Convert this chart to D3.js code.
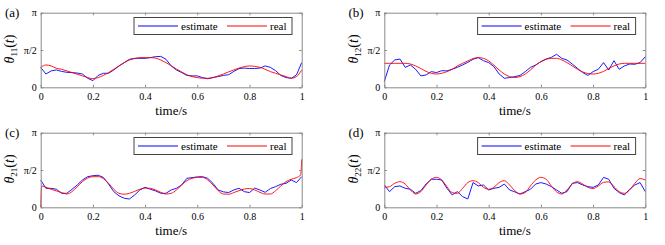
<!DOCTYPE html>
<html>
<head>
<meta charset="utf-8">
<script src="https://cdn.jsdelivr.net/npm/d3@7"></script>
<style>
  body { margin: 0; background: #fff; }
</style>
</head>
<body>
<script>

// sample times (s)
const time = [0, 0.02, 0.04, 0.06, 0.08, 0.1, 0.12, 0.14, 0.16, 0.18,
    0.2, 0.22, 0.24, 0.26, 0.28, 0.3, 0.32, 0.34, 0.36, 0.38,
    0.4, 0.42, 0.44, 0.46, 0.48, 0.5, 0.52, 0.54, 0.56, 0.58,
    0.6, 0.62, 0.64, 0.66, 0.68, 0.7, 0.72, 0.74, 0.76, 0.78,
    0.8, 0.82, 0.84, 0.86, 0.88, 0.9, 0.92, 0.94, 0.96, 0.98, 1];

// real theta_21 has a jump at both ends, so it gets its own times
const timeC = [0, 0.004, 0.02, 0.04, 0.06, 0.08, 0.1, 0.12, 0.14, 0.16, 0.18,
    0.2, 0.22, 0.24, 0.26, 0.28, 0.3, 0.32, 0.34, 0.36, 0.38,
    0.4, 0.42, 0.44, 0.46, 0.48, 0.5, 0.52, 0.54, 0.56, 0.58,
    0.6, 0.62, 0.64, 0.66, 0.68, 0.7, 0.72, 0.74, 0.76, 0.78,
    0.8, 0.82, 0.84, 0.86, 0.88, 0.9, 0.92, 0.94, 0.96, 0.98, 0.996, 1];

// angles in rad
const estA = [0.84, 0.56, 0.69, 0.73, 0.67, 0.63, 0.62, 0.60, 0.56, 0.38,
    0.28, 0.50, 0.59, 0.59, 0.73, 0.90, 1.04, 1.18, 1.22, 1.22,
    1.22, 1.25, 1.29, 1.30, 1.18, 0.90, 0.73, 0.62, 0.50, 0.48,
    0.48, 0.41, 0.36, 0.41, 0.45, 0.50, 0.53, 0.67, 0.79, 0.81,
    0.79, 0.79, 0.81, 0.90, 0.84, 0.70, 0.50, 0.41, 0.38, 0.52, 1.04];
const realA = [0.84, 0.94, 0.90, 0.80, 0.76, 0.69, 0.62, 0.55, 0.48, 0.41,
    0.36, 0.41, 0.50, 0.62, 0.76, 0.90, 1.04, 1.15, 1.21, 1.25,
    1.25, 1.25, 1.23, 1.15, 1.04, 0.91, 0.77, 0.65, 0.53, 0.45,
    0.41, 0.38, 0.38, 0.41, 0.48, 0.56, 0.65, 0.73, 0.81, 0.87,
    0.90, 0.88, 0.84, 0.76, 0.66, 0.59, 0.52, 0.45, 0.38, 0.45, 0.73];

const estB = [0.24, 0.94, 1.15, 1.19, 0.84, 0.94, 0.76, 0.48, 0.52, 0.66,
    0.62, 0.70, 0.69, 0.76, 0.84, 0.94, 1.05, 1.18, 1.25, 1.12,
    1.04, 0.87, 0.56, 0.38, 0.41, 0.45, 0.50, 0.66, 0.84, 0.94,
    1.08, 1.19, 1.26, 1.39, 1.22, 1.15, 0.98, 0.80, 0.62, 0.50,
    0.66, 0.76, 1.04, 0.73, 1.12, 0.76, 0.90, 0.98, 0.97, 1.04, 1.29];
const realB = [1.01, 1.01, 1.01, 1.01, 1.01, 0.98, 0.90, 0.79, 0.67, 0.59,
    0.56, 0.59, 0.66, 0.76, 0.90, 1.01, 1.11, 1.21, 1.25, 1.22,
    1.11, 0.93, 0.73, 0.56, 0.45, 0.41, 0.45, 0.56, 0.73, 0.93,
    1.08, 1.18, 1.22, 1.22, 1.15, 1.04, 0.90, 0.76, 0.65, 0.58,
    0.56, 0.59, 0.67, 0.79, 0.90, 0.98, 1.01, 1.01, 1.01, 1.01, 1.01];

const estC = [1.15, 0.80, 0.80, 0.76, 0.59, 0.59, 0.76, 0.94, 1.15, 1.29,
    1.33, 1.35, 1.26, 0.98, 0.66, 0.48, 0.38, 0.35, 0.52, 0.73,
    0.84, 0.76, 0.69, 0.59, 0.59, 0.73, 0.80, 0.94, 1.22, 1.25,
    1.28, 1.29, 1.22, 1.01, 0.73, 0.65, 0.62, 0.73, 0.80, 0.66,
    0.62, 0.81, 0.73, 0.63, 0.79, 0.87, 0.97, 1.01, 1.15, 1.04, 1.29];
const realC = [0, 0.90, 0.84, 0.76, 0.69, 0.62, 0.56, 0.66, 0.87, 1.08, 1.23,
    1.29, 1.29, 1.21, 1.01, 0.76, 0.59, 0.55, 0.59, 0.67, 0.76,
    0.81, 0.80, 0.73, 0.63, 0.56, 0.59, 0.73, 0.94, 1.12, 1.22,
    1.26, 1.26, 1.15, 0.94, 0.70, 0.56, 0.55, 0.62, 0.70, 0.77,
    0.79, 0.73, 0.63, 0.56, 0.56, 0.70, 0.90, 1.08, 1.18, 1.25, 1.36, 2.02];

const estD = [0.94, 0.66, 0.87, 0.90, 0.80, 0.76, 0.59, 0.70, 0.98, 1.18,
    1.18, 1.15, 0.80, 0.52, 0.66, 0.45, 0.35, 1.04, 0.90, 0.94,
    0.73, 0.80, 0.84, 0.98, 0.73, 0.65, 0.56, 0.66, 0.76, 0.98,
    1.04, 0.98, 0.87, 0.73, 0.59, 0.66, 1.01, 1.04, 0.94, 0.87,
    0.84, 0.94, 1.26, 1.18, 0.80, 0.62, 0.52, 0.76, 0.94, 1.04, 0.66];
const realD = [0.84, 0.87, 1.01, 1.08, 0.98, 0.73, 0.56, 0.66, 0.94, 1.18,
    1.26, 1.15, 0.87, 0.62, 0.59, 0.80, 1.04, 1.12, 1.04, 0.84,
    0.76, 0.84, 1.04, 1.12, 0.94, 0.70, 0.56, 0.62, 0.90, 1.15,
    1.26, 1.18, 0.90, 0.65, 0.56, 0.73, 0.98, 1.08, 0.98, 0.84,
    0.79, 0.90, 1.05, 1.07, 0.87, 0.66, 0.59, 0.73, 1.01, 1.21, 1.15];

const xTicks = [0, 0.2, 0.4, 0.6, 0.8, 1];
const xTickLabels = ["0", "0.2", "0.4", "0.6", "0.8", "1"];
const yTicks = [0, Math.PI / 2, Math.PI];
const yTickLabels = ["0", "\u03c0/2", "\u03c0"];
const panelLetters = ["(a)", "(b)", "(c)", "(d)"];
const subscripts = ["11", "12", "21", "22"];
const seriesNames = ["estimate", "real"];

const panels = [
    { est: estA, real: realA, realTime: time },
    { est: estB, real: realB, realTime: time },
    { est: estC, real: realC, realTime: timeC },
    { est: estD, real: realD, realTime: time }
];

const W = 665, H = 245;
const plotLeft = [40.7, 384.3];
const plotTop = [12.7, 132.7];
const plotW = 261, plotH = 74.6;
const axisColor = "#8a8a8a";
const SERIF = '"Liberation Serif"';

let svg = d3.select("body").append("svg")
    .attr("width", W)
    .attr("height", H);

// text helper, font set inline on every label
function label(parent, size) {
    return parent.append("text")
        .style("font-family", SERIF)
        .style("font-size", size + "px")
        .style("font-weight", "normal")
        .attr("fill", "#000");
}

/**
 * draws one panel of the figure
 */
function drawPanel(p, i) {
    let left = plotLeft[i % 2];
    let top = plotTop[Math.floor(i / 2)];

    let x = d3.scaleLinear().domain([0, 1]).range([0, plotW]);
    let y = d3.scaleLinear().domain([0, Math.PI]).range([plotH, 0]);

    let g = svg.append("g").attr("transform", `translate(${left},${top})`);

    let lineEst = d3.line()
        .x((d, k) => x(time[k]))
        .y(d => y(d));
    let lineReal = d3.line()
        .x((d, k) => x(p.realTime[k]))
        .y(d => y(d))
        .curve(d3.curveMonotoneX);

    g.append("path")
        .attr("d", lineEst(p.est))
        .attr("fill", "none")
        .attr("stroke", "#0000ff")
        .attr("stroke-width", 0.9);

    g.append("path")
        .attr("d", lineReal(p.real))
        .attr("fill", "none")
        .attr("stroke", "#ff0000")
        .attr("stroke-width", 0.9);

    // axes, ticks pointing inwards on all four sides
    let bottom = g.append("g").attr("transform", `translate(0,${plotH})`)
        .call(d3.axisBottom(x).tickValues(xTicks)
            .tickFormat((d, k) => xTickLabels[k])
            .tickSizeInner(-2.6).tickSizeOuter(0).tickPadding(6));
    let topAx = g.append("g")
        .call(d3.axisTop(x).tickValues(xTicks).tickFormat("")
            .tickSizeInner(-2.6).tickSizeOuter(0));
    let leftAx = g.append("g")
        .call(d3.axisLeft(y).tickValues(yTicks)
            .tickFormat((d, k) => yTickLabels[k])
            .tickSizeInner(-2.6).tickSizeOuter(0).tickPadding(4));
    let rightAx = g.append("g").attr("transform", `translate(${plotW},0)`)
        .call(d3.axisRight(y).tickValues(yTicks).tickFormat("")
            .tickSizeInner(-2.6).tickSizeOuter(0));

    [bottom, topAx, leftAx, rightAx].forEach(a => {
        a.attr("font-family", null).attr("font-size", null);
        a.selectAll("path, line").attr("stroke", axisColor);
        a.selectAll("text")
            .attr("fill", "#000")
            .style("font-family", SERIF)
            .style("font-size", "10px");
    });

    // legend
    let leg = g.append("g").attr("transform", "translate(93.3,4.8)");
    leg.append("rect")
        .attr("x", 0).attr("y", 0)
        .attr("width", 158).attr("height", 17)
        .attr("fill", "#fff")
        .attr("stroke", "#444")
        .attr("stroke-width", 1);
    let entries = [
        { name: seriesNames[0], color: "#0000ff", x0: 4 },
        { name: seriesNames[1], color: "#ff0000", x0: 93 }
    ];
    entries.forEach(e => {
        leg.append("line")
            .attr("x1", e.x0).attr("x2", e.x0 + 40)
            .attr("y1", 8.5).attr("y2", 8.5)
            .attr("stroke", e.color).attr("stroke-width", 1);
        label(leg, 11)
            .attr("x", e.x0 + 43).attr("y", 12.3)
            .text(e.name);
    });

    // axis labels
    label(g, 13)
        .attr("x", plotW / 2).attr("y", plotH + 27.5)
        .attr("text-anchor", "middle")
        .text("time/s");

    let yl = label(g, 14)
        .attr("transform", `translate(-26.5,${plotH / 2 - 1}) rotate(-90)`)
        .attr("text-anchor", "middle");
    yl.append("tspan").style("font-style", "italic").text("\u03b8");
    yl.append("tspan").style("font-size", "9px").attr("dy", 3).text(subscripts[i]);
    yl.append("tspan").attr("dy", -3).text("(");
    yl.append("tspan").style("font-style", "italic").text("t");
    yl.append("tspan").text(")");

    label(g, 13)
        .attr("x", -35.8).attr("y", 4.5)
        .text(panelLetters[i]);
}

for (let i = 0; i < panels.length; i++) {
    drawPanel(panels[i], i);
}

</script>
</body>
</html>
